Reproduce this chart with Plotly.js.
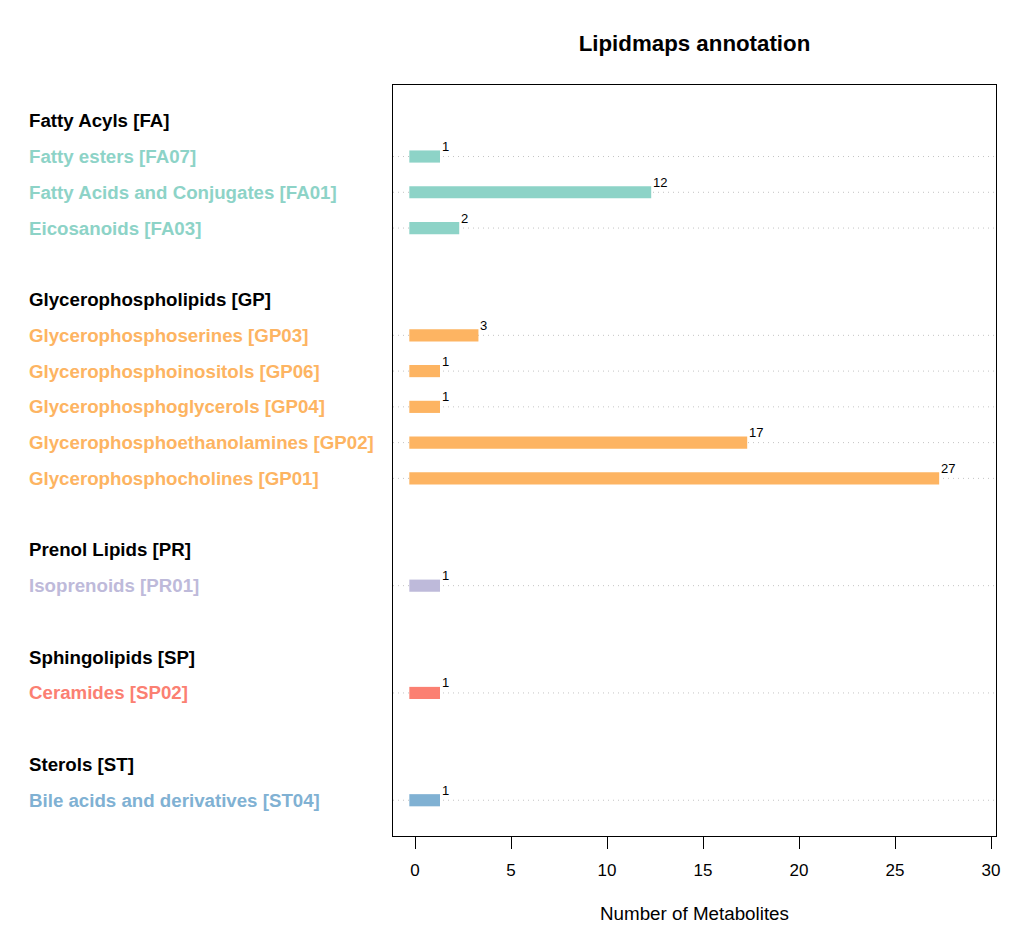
<!DOCTYPE html>
<html>
<head>
<meta charset="utf-8">
<script src="https://cdn.plot.ly/plotly-3.0.1.min.js"></script>
<style>html,body{margin:0;padding:0;background:#fff;}#chart{width:1026px;height:942px;}</style>
</head>
<body>
<div id="chart"></div>
<script>
// ---- data ----
const groupNames = ['Fatty Acyls [FA]', 'Glycerophospholipids [GP]', 'Prenol Lipids [PR]', 'Sphingolipids [SP]', 'Sterols [ST]'];
const groupColors = ['#8DD3C7', '#FDB462', '#BEBADA', '#FB8072', '#80B1D3'];
const faLabels = ['Fatty esters [FA07]', 'Fatty Acids and Conjugates [FA01]', 'Eicosanoids [FA03]'];
const faCounts = [1, 12, 2];
const gpLabels = ['Glycerophosphoserines [GP03]', 'Glycerophosphoinositols [GP06]', 'Glycerophosphoglycerols [GP04]', 'Glycerophosphoethanolamines [GP02]', 'Glycerophosphocholines [GP01]'];
const gpCounts = [3, 1, 1, 17, 27];
const prLabels = ['Isoprenoids [PR01]'];
const prCounts = [1];
const spLabels = ['Ceramides [SP02]'];
const spCounts = [1];
const stLabels = ['Bile acids and derivatives [ST04]'];
const stCounts = [1];
const xTicks = [0, 5, 10, 15, 20, 25, 30];

const subLabels = [faLabels, gpLabels, prLabels, spLabels, stLabels];
const subCounts = [faCounts, gpCounts, prCounts, spCounts, stCounts];

// ---- build rows ----
const FONT = '"Liberation Sans", Arial, Helvetica, sans-serif';
const PAD = 0.3; // bar overhang on each side (R segment ends)
const LABEL_X = -0.607;
const annotations = [];
const shapes = [];
const traces = [];
let row = 0;
groupNames.forEach((g, gi) => {
  annotations.push({xref: 'paper', yref: 'y', x: LABEL_X, y: row, text: '<b>' + g + '</b>',
    showarrow: false, xanchor: 'left', yanchor: 'middle', font: {family: FONT, size: 18.7, color: '#000'}});
  row++;
  const ys = [], xs = [], bs = [];
  subLabels[gi].forEach((lab, si) => {
    const v = subCounts[gi][si];
    annotations.push({xref: 'paper', yref: 'y', x: LABEL_X, y: row, text: '<b>' + lab + '</b>',
      showarrow: false, xanchor: 'left', yanchor: 'middle', font: {family: FONT, size: 18.7, color: groupColors[gi]}});
    annotations.push({xref: 'x', yref: 'y', x: v + PAD, y: row, text: String(v), showarrow: false,
      xanchor: 'left', yanchor: 'middle', yshift: 10, xshift: 0, font: {family: FONT, size: 13, color: '#000'}});
    shapes.push({type: 'line', xref: 'paper', yref: 'y', x0: 0, x1: 1, y0: row, y1: row, layer: 'below',
      line: {color: '#c4c4c4', width: 1, dash: '1px,4px'}});
    ys.push(row); xs.push(v + 2 * PAD); bs.push(-PAD);
    row++;
  });
  traces.push({type: 'bar', orientation: 'h', y: ys, x: xs, base: bs, width: 0.34,
    marker: {color: groupColors[gi], line: {width: 0}}, hoverinfo: 'skip', showlegend: false});
  row++;
});

const layout = {
  width: 1026, height: 942,
  margin: {l: 393, r: 30, t: 85, b: 106},
  paper_bgcolor: '#fff', plot_bgcolor: '#fff',
  font: {family: FONT, color: '#000'},
  title: {text: '<b>Lipidmaps annotation</b>', font: {family: FONT, size: 22.3, color: '#000'},
    xref: 'paper', x: 0.5, xanchor: 'center', yref: 'container', y: 1 - 43 / 942, yanchor: 'middle'},
  barmode: 'overlay',
  xaxis: {range: [-1.15, 30.26], tickvals: xTicks, ticktext: xTicks.map(String), ticks: 'outside', ticklen: 12,
    ticklabelstandoff: 6,
    tickcolor: '#000', tickwidth: 1, showgrid: false, zeroline: false, showline: true, linecolor: '#000', linewidth: 1.2,
    mirror: true, tickfont: {family: FONT, size: 17, color: '#000'},
    title: {text: 'Number of Metabolites', font: {family: FONT, size: 18.8, color: '#000'}, standoff: 28}},
  yaxis: {range: [20, -1], showticklabels: false, ticks: '', showgrid: false, zeroline: false,
    showline: true, linecolor: '#000', linewidth: 1.2, mirror: true},
  annotations: annotations,
  shapes: shapes
};
layout.yaxis.range = [row - 1, -1];

Plotly.newPlot('chart', traces, layout, {displayModeBar: false, staticPlot: true});
</script>
</body>
</html>
